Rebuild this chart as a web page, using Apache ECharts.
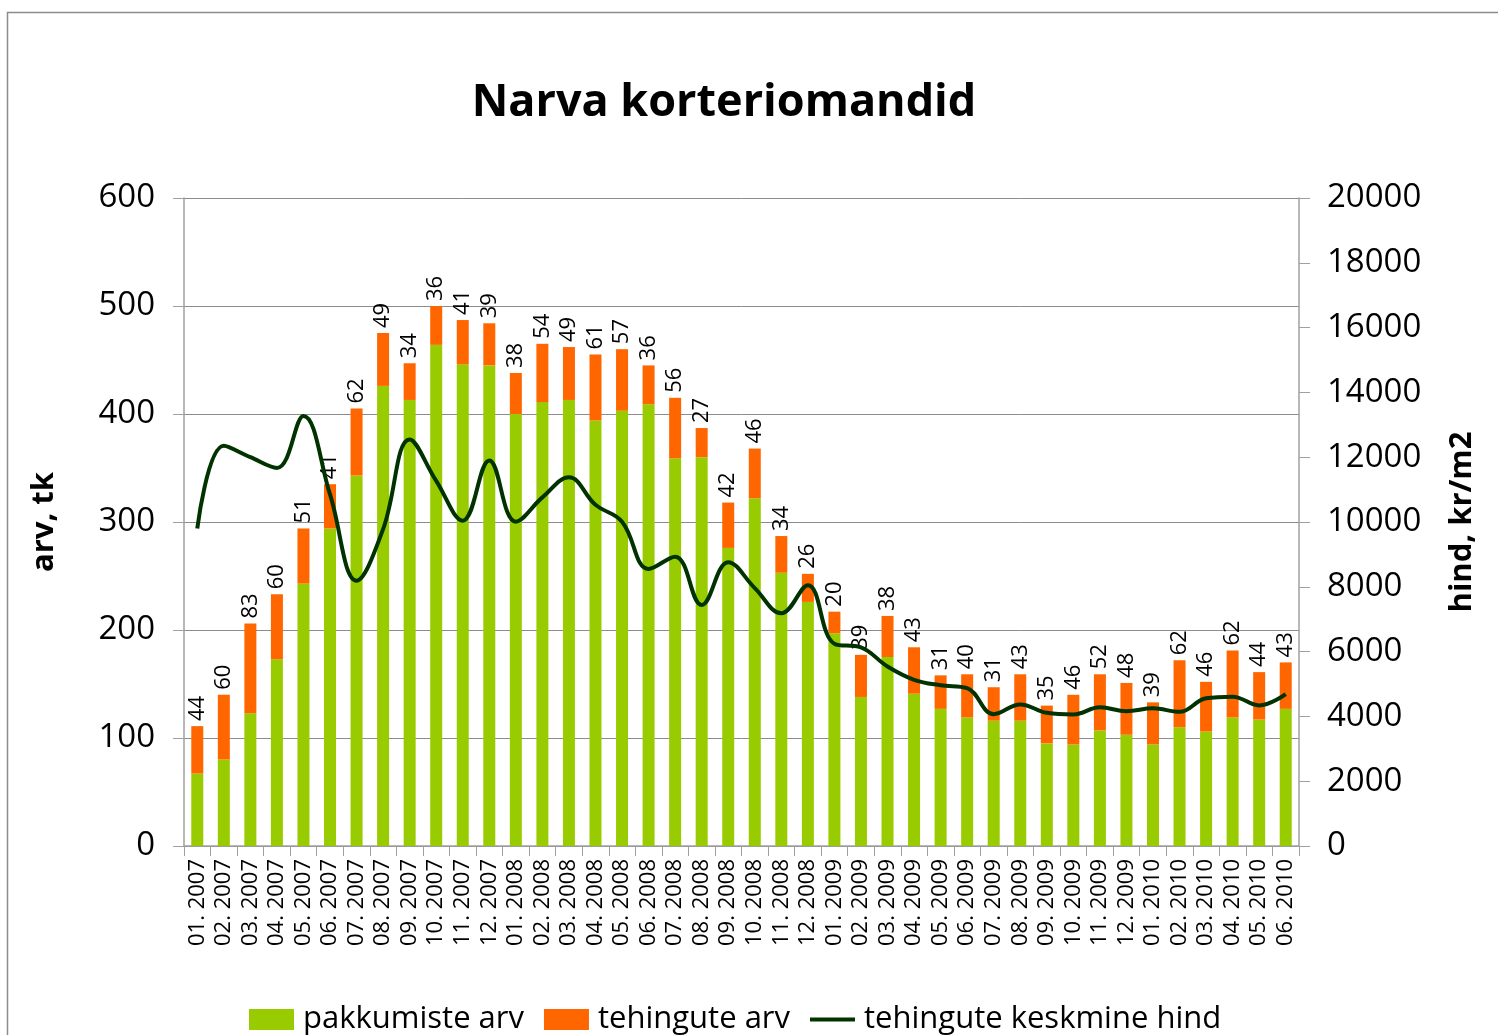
<!DOCTYPE html>
<html>
<head>
<meta charset="utf-8">
<script src="https://cdn.jsdelivr.net/npm/echarts@6/dist/echarts.min.js"></script>
<style>
  html, body { margin: 0; padding: 0; background: #fff; }
  #chart { width: 1498px; height: 1035px; }
</style>
</head>
<body>
<div id="chart"></div>
<script>
// kuud
const months = [
  '01. 2007','02. 2007','03. 2007','04. 2007','05. 2007','06. 2007','07. 2007','08. 2007','09. 2007','10. 2007','11. 2007','12. 2007',
  '01. 2008','02. 2008','03. 2008','04. 2008','05. 2008','06. 2008','07. 2008','08. 2008','09. 2008','10. 2008','11. 2008','12. 2008',
  '01. 2009','02. 2009','03. 2009','04. 2009','05. 2009','06. 2009','07. 2009','08. 2009','09. 2009','10. 2009','11. 2009','12. 2009',
  '01. 2010','02. 2010','03. 2010','04. 2010','05. 2010','06. 2010'
];
// pakkumiste arv
const offers = [
  67, 80, 123, 173, 243, 294, 343, 426, 413, 464, 446, 445,
  400, 411, 413, 394, 403, 409, 359, 360, 276, 322, 253, 226,
  197, 138, 175, 141, 127, 119, 116, 116, 95, 94, 107, 103,
  94, 110, 106, 119, 117, 127
];
// tehingute arv
const deals = [
  44, 60, 83, 60, 51, 41, 62, 49, 34, 36, 41, 39,
  38, 54, 49, 61, 57, 36, 56, 27, 42, 46, 34, 26,
  20, 39, 38, 43, 31, 40, 31, 43, 35, 46, 52, 48,
  39, 62, 46, 62, 44, 43
];
// tehingute keskmine hind, kr/m2
const avgPrice = [
  9800, 12350, 12000, 11670, 13270, 10850, 8190, 9780, 12550, 11270, 10040, 11900,
  10010, 10760, 11380, 10530, 10010, 8550, 8930, 7440, 8760, 7960, 7180, 8050,
  6240, 6130, 5540, 5130, 4960, 4870, 4070, 4370, 4110, 4060, 4280, 4160,
  4250, 4140, 4560, 4610, 4340, 4690
];
const leftTicks = [0, 600, 100];
const rightTicks = [0, 20000, 2000];

const font = '"Open Sans", "Noto Sans", sans-serif';
const axisGray = '#a0a0a0';

let chart = echarts.init(document.getElementById('chart'), null, {renderer: 'canvas'});
let option = {
  backgroundColor: '#fff',
  animation: false,
  textStyle: {fontFamily: font, color: '#000'},
  title: {
    text: 'Narva korteriomandid',
    left: 719, top: 76,
    textAlign: 'center',
    textStyle: {fontFamily: font, fontSize: 45, fontWeight: 'bold', color: '#000'}
  },
  graphic: [{
    type: 'rect',
    shape: {x: 7.5, y: 12.5, width: 1600, height: 1100},
    style: {fill: 'none', stroke: '#8c8c8c', lineWidth: 1.5},
    silent: true, z: -1
  }],
  legend: {
    left: 244, top: 999,
    itemWidth: 45, itemHeight: 21, itemGap: 20,
    textStyle: {fontFamily: font, fontSize: 31, color: '#000', padding: [0, 0, 0, 4]},
    data: [
      {name: 'pakkumiste arv', icon: 'rect'},
      {name: 'tehingute arv', icon: 'rect'},
      {name: 'tehingute keskmine hind', icon: 'path://M0,0 L47,0 L47,4 L0,4 Z'}
    ]
  },
  grid: {left: 184, right: 199, top: 198, bottom: 189, containLabel: false},
  xAxis: {
    type: 'category',
    data: months,
    boundaryGap: true,
    axisLine: {lineStyle: {color: axisGray, width: 1.5}},
    axisTick: {show: true, alignWithLabel: false, length: 10, lineStyle: {color: axisGray}},
    axisLabel: {rotate: 90, interval: 0, margin: 13, fontSize: 22, color: '#000', fontFamily: font}
  },
  yAxis: [{
    type: 'value',
    min: leftTicks[0], max: leftTicks[1], interval: leftTicks[2],
    name: 'arv, tk',
    nameLocation: 'middle', nameRotate: 90, nameGap: 124,
    nameTextStyle: {fontFamily: font, fontSize: 31, fontWeight: 'bold', color: '#000'},
    axisLine: {show: true, lineStyle: {color: axisGray, width: 1.5}},
    axisTick: {show: true, length: 11, lineStyle: {color: axisGray}},
    axisLabel: {margin: 29, fontSize: 33, color: '#000', fontFamily: font},
    splitLine: {show: true, lineStyle: {color: '#8c8c8c', width: 1}}
  }, {
    type: 'value',
    min: rightTicks[0], max: rightTicks[1], interval: rightTicks[2],
    position: 'right',
    name: 'hind, kr/m2',
    nameLocation: 'middle', nameRotate: 90, nameGap: 148,
    nameTextStyle: {fontFamily: font, fontSize: 31, fontWeight: 'bold', color: '#000'},
    axisLine: {show: true, lineStyle: {color: axisGray, width: 1.5}},
    axisTick: {show: true, length: 11, lineStyle: {color: axisGray}},
    axisLabel: {margin: 28, fontSize: 33, color: '#000', fontFamily: font, formatter: v => String(v)},
    splitLine: {show: false}
  }],
  series: [{
    name: 'pakkumiste arv',
    type: 'bar',
    stack: 'kokku',
    barWidth: 12,
    itemStyle: {color: '#99cc00'},
    data: offers
  }, {
    name: 'tehingute arv',
    type: 'bar',
    stack: 'kokku',
    barWidth: 12,
    itemStyle: {color: '#ff6600'},
    label: {
      show: true, position: 'top', rotate: 90,
      align: 'left', verticalAlign: 'middle', distance: 5,
      fontSize: 22, color: '#000', fontFamily: font
    },
    data: deals
  }, {
    name: 'tehingute keskmine hind',
    type: 'line',
    yAxisIndex: 1,
    smooth: 0.4,
    symbol: 'none',
    itemStyle: {color: '#003300'},
    lineStyle: {color: '#003300', width: 4},
    data: avgPrice,
    z: 5
  }]
};
chart.setOption(option);
</script>
</body>
</html>
